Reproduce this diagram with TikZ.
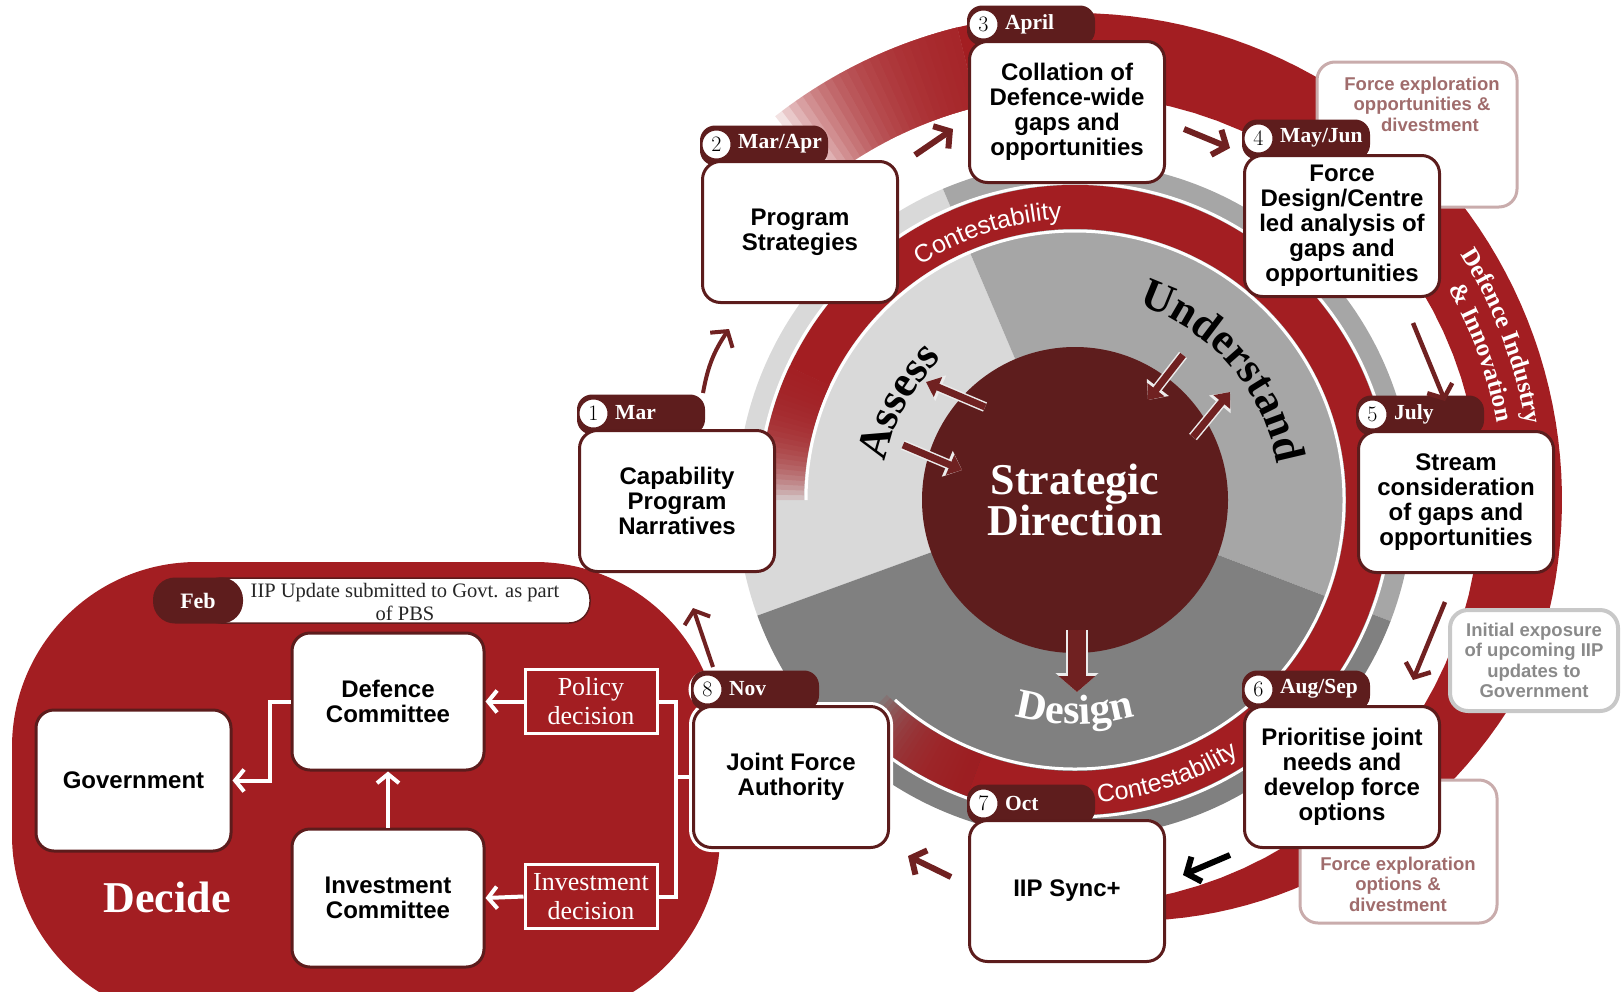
\documentclass[tikz,border=0pt]{standalone}
\usepackage{fontspec}
\newfontfamily\arialfont{Liberation Sans}
\newfontfamily\timesfont{Liberation Serif}
\newfontfamily\titlefont{Liberation Serif}
\usetikzlibrary{arrows.meta,decorations.text}

\definecolor{ringred}{RGB}{163,30,34}
\definecolor{tabred}{RGB}{94,29,29}
\definecolor{boxred}{RGB}{92,28,28}
\definecolor{arrowred}{RGB}{112,33,33}
\definecolor{assessgray}{RGB}{217,217,217}
\definecolor{understandgray}{RGB}{166,166,166}
\definecolor{designgray}{RGB}{128,128,128}
\definecolor{roseline}{RGB}{201,172,172}
\definecolor{rosetext}{RGB}{160,108,108}
\definecolor{noteline}{RGB}{200,200,200}
\definecolor{notegray}{RGB}{138,138,138}

\tikzset{
  stagebox/.style={draw=boxred, line width=3pt, fill=white, rounded corners=18pt,
    minimum width=195pt, minimum height=141pt, inner sep=0pt, align=center,
    font=\arialfont\bfseries\fontsize{24}{25}\selectfont},
  monthtab/.style={fill=tabred, rounded corners=15pt, minimum width=128pt,
    minimum height=40pt, inner sep=0pt},
  numdot/.style={circle, draw=tabred, line width=2pt, fill=white, minimum size=30pt,
    inner sep=0pt, font=\fontsize{22}{22}\selectfont},
  monthlbl/.style={anchor=west, inner sep=0pt, text=white,
    font=\titlefont\bfseries\fontsize{21.5}{21.5}\selectfont},
  flow/.style={draw=arrowred, line width=6pt, -{Straight Barb[length=11pt,width=27pt]}},
  wflow/.style={draw=white, line width=4pt, -{Straight Barb[length=9pt,width=22pt]}},
  wline/.style={draw=white, line width=4pt},
  corearrow/.style={draw=arrowred, line width=7pt, -{Triangle[length=13pt,width=21pt]},
    preaction={draw=white!85!gray, line width=10pt, -{Triangle[length=16pt,width=27pt]}}},
  designarrow/.style={draw=arrowred, line width=18pt, -{Triangle[length=16pt,width=36pt]},
    preaction={draw=white!85!gray, line width=22pt, -{Triangle[length=19pt,width=42pt]}}},
  notebox/.style={draw=roseline, line width=3pt, fill=white, rounded corners=18pt, inner sep=0pt},
  notetext/.style={align=center, inner sep=0pt,
    font=\arialfont\bfseries\fontsize{18.5}{20.5}\selectfont},
  decisionbox/.style={draw=white, line width=3pt, fill=ringred, minimum width=132pt,
    minimum height=64pt, inner sep=0pt, align=center, text=white,
    font=\timesfont\fontsize{26}{29}\selectfont},
}

\begin{document}
\begin{tikzpicture}[x=1pt,y=1pt]
\useasboundingbox (0,0) rectangle (1621,-991);
\clip (0,0) rectangle (1621,-991);

% decide area
\fill[ringred, rounded corners=185pt] (12,-562) rectangle (720,-1020);

\begin{scope}[shift={(1075,-500)}]
  % defence industry ring
  \fill[ringred] plot[domain=104:-100, samples=100] (\x:{487-max(0,-20-\x)})
    -- plot[domain=-100:104, samples=60] (\x:405) -- cycle;
  \foreach \a in {105,...,128}
    \fill[ringred, opacity=0.13] (104:405) arc (104:\a:405) -- (\a:487) arc (\a:104:487) -- cycle;

  % three sectors
  \fill[assessgray] (0,0) -- (113:338) arc (113:200:338) -- cycle;
  \fill[understandgray] (0,0) -- (-21:338) arc (-21:113:338) -- cycle;
  \fill[designgray] (0,0) -- (200:338) arc (200:339:338) -- cycle;

  % contestability ring
  \fill[ringred] (155:271) arc (155:-110:271) -- (-110:315) arc (-110:155:315) -- cycle;
  \foreach \a in {156,...,180}
    \fill[ringred, opacity=0.13] (155:271) arc (155:\a:271) -- (\a:315) arc (\a:155:315) -- cycle;
  \foreach \a in {249,248,...,226}
    \fill[ringred, opacity=0.13] (250:271) arc (250:\a:271) -- (\a:315) arc (\a:250:315) -- cycle;
  \draw[white, line width=3pt] (180:269) arc (180:-132:269);
  \draw[white, line width=3pt] (180:317) arc (180:-132:317);

  % ring texts
  \path[decorate, decoration={text along path, text align=center, text color=white,
    text={|\arialfont\fontsize{25}{25}\selectfont|Contestability}}] (140:281) arc (140:76:281);
  \path[decorate, decoration={text along path, text align=center, text color=white,
    text={|\arialfont\fontsize{25}{25}\selectfont|Contestability}}] (-105:303) arc (-105:-38:303);
  \path[decorate, decoration={text along path, text align=center, text color=white,
    text={|\titlefont\bfseries\fontsize{25}{25}\selectfont|Defence Industry}}] (48:457) arc (48:-6:457);
  \path[decorate, decoration={text along path, text align=center, text color=white,
    text={|\titlefont\bfseries\fontsize{25}{25}\selectfont|{\&} Innovation}}] (46:429) arc (46:-6:429);

  % sector names
  \path[decorate, decoration={text along path, text align=center, text color=black,
    text={|\titlefont\bfseries\fontsize{44}{44}\selectfont|Assess}}] (172:194) arc (172:130:194);
  \path[decorate, decoration={text along path, text align=center, text color=black,
    text={|\titlefont\bfseries\fontsize{44}{44}\selectfont|Understand}}] (80:205) arc (80:2:205);
  \path[decorate, decoration={text along path, text align=center, text color=white,
    text={|\titlefont\bfseries\fontsize{42}{42}\selectfont|Design}}] (-125:224) arc (-125:-55:224);

  % strategic direction
  \node[circle, fill=tabred, minimum size=306pt, inner sep=0pt, text=white, align=center,
    font=\titlefont\bfseries\fontsize{44}{39}\selectfont] (core) at (0,0) {Strategic\\Direction};
  \foreach \s/\e in {{-90,93}/{-149,118}, {-172,55}/{-113,30},
                     {108,145}/{73,100}, {118,63}/{155,108}}
    \draw[corearrow] (\s) -- (\e);
  \draw[designarrow] (2,-130) -- (2,-192);
\end{scope}

% side notes
\node[notebox, minimum width=200pt, minimum height=145pt] (fxo) at (1417,-134.5) {};
\node[notetext, text=rosetext] (fxoT) at (1422,-104) {Force exploration\\opportunities \&\\\hspace*{16pt}divestment};
\node[notebox, minimum width=197pt, minimum height=143pt] (fxd) at (1398.5,-851.5) {};
\node[notetext, text=rosetext] (fxdT) at (1398,-884) {Force exploration\\options \&\\divestment};
\node[notebox, draw=noteline, line width=4pt, minimum width=168pt, minimum height=101pt,
  notetext, text=notegray] (iexp) at (1534,-660.5) {Initial exposure\\of upcoming IIP\\updates to\\Government};

% white halo of stage 8
\draw[white, line width=9pt, rounded corners=18pt] (693.5,-706.5) rectangle (888.5,-847.5);
\draw[white, line width=8pt] (707.5,-689.5) circle (15);

% stages
\foreach \n/\x/\y/\m/\t in {
    1/677/-501/Mar/{Capability\\Program\\Narratives},
    2/800/-232/{Mar/Apr}/{Program\\Strategies},
    3/1067/-112/April/{Collation of\\Defence-wide\\gaps and\\opportunities},
    4/1342/-226/{May/Jun}/{Force\\Design/Centre\\led analysis of\\gaps and\\opportunities},
    5/1456/-502/July/{Stream\\consideration\\of gaps and\\opportunities},
    6/1342/-777/{Aug/Sep}/{Prioritise joint\\needs and\\develop force\\options},
    7/1067/-891/Oct/{IIP Sync+},
    8/791/-777/Nov/{Joint Force\\Authority}}{
  \node[monthtab] (tab\n) at ({\x-36},{\y+86.5}) {};
  \node[stagebox] (box\n) at (\x,\y) {\t};
  \node[numdot] (num\n) at ({\x-83.5},{\y+87.5}) {\n};
  \node[monthlbl] (mon\n) at ({\x-62},{\y+88}) {\m};
}

% arrows between stages
\coordinate (s12) at (703,-393); \coordinate (e12) at (729,-329);
\draw[flow, line width=4pt] (s12) to[bend left=12] (e12);
\foreach \n/\s/\e in {23/{915,-155}/{953,-129}, 34/{1184,-129}/{1230,-148},
                      78/{951,-877}/{908,-856}}{
  \coordinate (s\n) at (\s); \coordinate (e\n) at (\e);
  \draw[flow] (s\n) -- (e\n);
}
\coordinate (s45) at (1413,-323); \coordinate (e45) at (1445,-401);
\draw[flow, line width=4.5pt] (s45) -- (e45);
\coordinate (s56) at (1445,-602); \coordinate (e56) at (1413,-680);
\draw[flow, line width=4.5pt] (s56) -- (e56);
\coordinate (s67) at (1230,-855); \coordinate (e67) at (1183,-875);
\draw[flow, draw=black] (s67) -- (e67);
\coordinate (s81) at (713,-667); \coordinate (e81) at (693,-608);
\draw[flow, line width=4pt] (s81) -- (e81);

% decide
\node[draw=boxred, line width=1.5pt, fill=white, rounded corners=21pt, minimum width=390pt,
  minimum height=45pt, inner sep=0pt] (febbar) at (395,-600.5) {};
\node[fill=tabred, rounded corners=22pt, minimum width=90pt, minimum height=46pt, inner sep=0pt,
  text=white, font=\titlefont\bfseries\fontsize{22}{22}\selectfont] (feb) at (198,-600.5) {Feb};
\node[align=center, inner sep=0pt, text=black!85, font=\timesfont\fontsize{20.5}{23}\selectfont]
  (febtxt) at (405,-602) {IIP Update submitted to Govt. as part\\of PBS};

\node[stagebox, minimum width=192pt, minimum height=137pt] (dc) at (388,-701.5) {Defence\\Committee};
\node[stagebox] (gov) at (133.5,-780.5) {Government};
\node[stagebox, minimum width=192pt, minimum height=138pt] (ic) at (388,-898) {Investment\\Committee};
\node[decisionbox] (pd) at (591,-701.5) {Policy\\decision};
\node[decisionbox] (idn) at (591,-896.5) {Investment\\decision};

\draw[wline] (box8.west) -- ++(-16,0) coordinate (jfa);
\draw[wline] (pd.east) -| (jfa) |- (idn.east);
\draw[wflow] (pd.west) -- (dc.east);
\draw[wflow] (idn.west) -- (ic.east);
\draw[wflow] (ic.north) -- (dc.south);
\draw[wflow] (dc.west) -- ++(-21,0) |- (gov.east);

\node[text=white, inner sep=0pt, font=\titlefont\bfseries\fontsize{44}{44}\selectfont] (decide) at (167,-897) {Decide};
\end{tikzpicture}
\end{document}
